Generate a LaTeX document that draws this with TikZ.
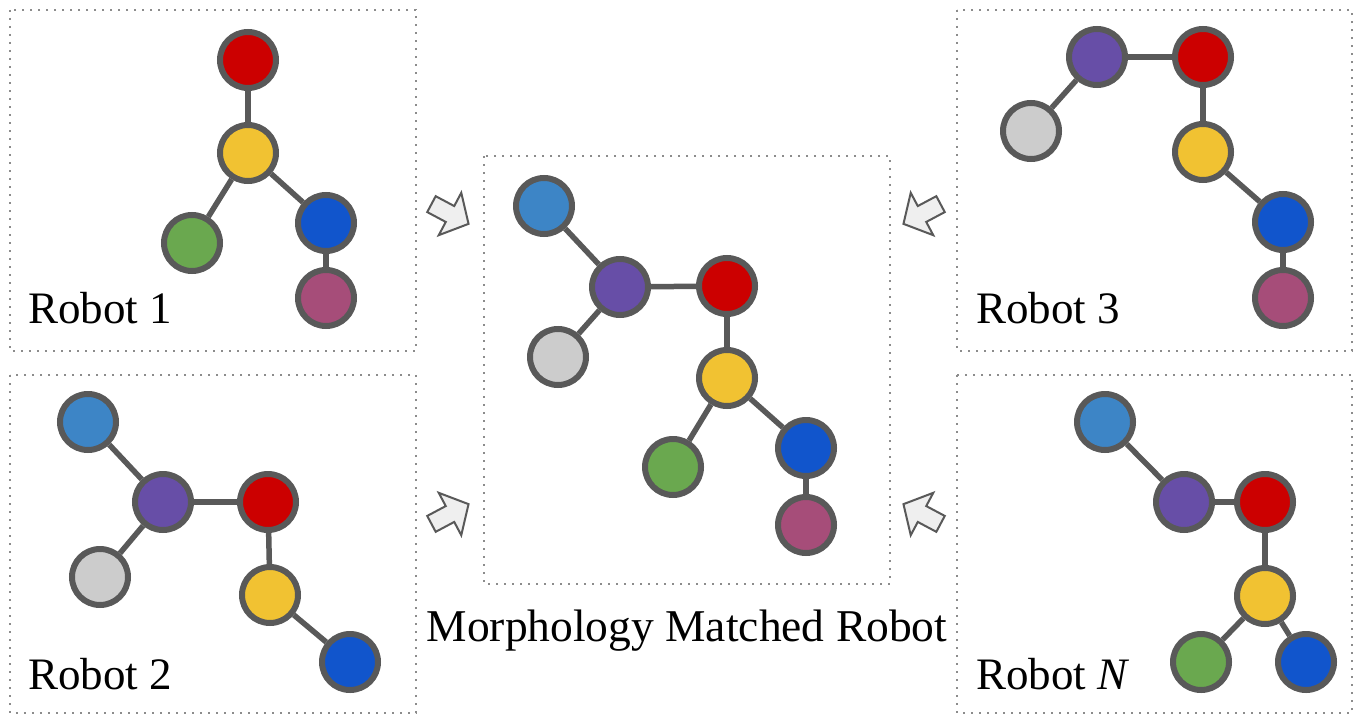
\documentclass[tikz,border=0pt]{standalone}
\usepackage{fontspec}
\setmainfont{Liberation Serif}
\definecolor{jred}{HTML}{CC0000}
\definecolor{jyellow}{HTML}{F1C232}
\definecolor{jgreen}{HTML}{6AA84F}
\definecolor{jsky}{HTML}{3D85C6}
\definecolor{jblue}{HTML}{1155CC}
\definecolor{jpurple}{HTML}{674EA7}
\definecolor{jplum}{HTML}{A64D79}
\definecolor{jgray}{HTML}{CCCCCC}
\definecolor{rim}{HTML}{595959}
\definecolor{framegray}{HTML}{8C8C8C}
\definecolor{arrowfill}{HTML}{EFEFEF}
\tikzset{
  jn/.style={circle, draw=rim, line width=6pt, minimum size=56pt, inner sep=0pt, fill=#1},
  link/.style={draw=rim, line width=5.5pt},
  panel/.style={draw=framegray, line width=1.6pt, dash pattern=on 1.6pt off 6.4pt},
  lbl/.style={font=\fontsize{45}{50}\selectfont, anchor=base west, inner sep=0pt},
  blockarrow/.style={fill=arrowfill, draw=rim, line width=2pt, line join=miter}
}
\newcommand{\blockarrowshape}{(-21,-9) -- (0,-9) -- (0,-24) -- (21,0) -- (0,24) -- (0,9) -- (-21,9) -- cycle}
\begin{document}
\begin{tikzpicture}[x=1pt, y=-1pt]
\useasboundingbox (0,0) rectangle (1354,717);
\fill[white] (0,0) rectangle (1354,717);

% panels
\draw[panel] (10,10) rectangle (416,351);
\draw[panel] (10,375) rectangle (416,713);
\draw[panel] (484,156) rectangle (890,584);
\draw[panel] (957,10) rectangle (1352,351);
\draw[panel] (957,375) rectangle (1352,713);

% Robot 1
\node[jn=jred]    (a1) at (248,60)  {};
\node[jn=jyellow] (a2) at (248,153) {};
\node[jn=jgreen]  (a3) at (192,243) {};
\node[jn=jblue]   (a4) at (326,223) {};
\node[jn=jplum]   (a5) at (326,298) {};
\draw[link] (a1) -- (a2);
\draw[link] (a2) -- (a3);
\draw[link] (a2) -- (a4);
\draw[link] (a4) -- (a5);
\node[lbl] (l1) at (28,323) {Robot 1};

% Robot 2
\node[jn=jsky]    (b1) at (88,422)  {};
\node[jn=jpurple] (b2) at (163,502) {};
\node[jn=jred]    (b3) at (268,502) {};
\node[jn=jgray]   (b4) at (100,577) {};
\node[jn=jyellow] (b5) at (270,595) {};
\node[jn=jblue]   (b6) at (350,662) {};
\draw[link] (b1) -- (b2);
\draw[link] (b2) -- (b3);
\draw[link] (b2) -- (b4);
\draw[link] (b3) -- (b5);
\draw[link] (b5) -- (b6);
\node[lbl] (l2) at (28,689) {Robot 2};

% matched robot
\node[jn=jsky]    (m1) at (544,206) {};
\node[jn=jpurple] (m2) at (620,287) {};
\node[jn=jred]    (m3) at (727,286) {};
\node[jn=jgray]   (m4) at (558,357) {};
\node[jn=jyellow] (m5) at (727,378) {};
\node[jn=jgreen]  (m6) at (673,467) {};
\node[jn=jblue]   (m7) at (806,448) {};
\node[jn=jplum]   (m8) at (806,525) {};
\draw[link] (m1) -- (m2);
\draw[link] (m2) -- (m3);
\draw[link] (m2) -- (m4);
\draw[link] (m3) -- (m5);
\draw[link] (m5) -- (m6);
\draw[link] (m5) -- (m7);
\draw[link] (m7) -- (m8);
\node[lbl, anchor=base, font=\fontsize{45.5}{50}\selectfont] (lm) at (687,641) {Morphology Matched Robot};

% Robot 3
\node[jn=jpurple] (c1) at (1097,57)  {};
\node[jn=jred]    (c2) at (1203,57)  {};
\node[jn=jgray]   (c3) at (1031,131) {};
\node[jn=jyellow] (c4) at (1203,152) {};
\node[jn=jblue]   (c5) at (1283,222) {};
\node[jn=jplum]   (c6) at (1283,298) {};
\draw[link] (c1) -- (c2);
\draw[link] (c1) -- (c3);
\draw[link] (c2) -- (c4);
\draw[link] (c4) -- (c5);
\draw[link] (c5) -- (c6);
\node[lbl] (l3) at (976,323) {Robot 3};

% Robot N
\node[jn=jsky]    (d1) at (1105,422) {};
\node[jn=jpurple] (d2) at (1184,502) {};
\node[jn=jred]    (d3) at (1265,502) {};
\node[jn=jyellow] (d4) at (1265,596) {};
\node[jn=jgreen]  (d5) at (1201,662) {};
\node[jn=jblue]   (d6) at (1306,662) {};
\draw[link] (d1) -- (d2);
\draw[link] (d2) -- (d3);
\draw[link] (d3) -- (d4);
\draw[link] (d4) -- (d5);
\draw[link] (d4) -- (d6);
\node[lbl] (l4) at (976,689) {Robot \textit{N}};

% block arrows towards the matched robot
\draw[blockarrow, shift={(450,214)}, rotate=-28]  \blockarrowshape;
\draw[blockarrow, shift={(922,214)}, rotate=-152] \blockarrowshape;
\draw[blockarrow, shift={(450,514)}, rotate=28]   \blockarrowshape;
\draw[blockarrow, shift={(922,514)}, rotate=152]  \blockarrowshape;
\end{tikzpicture}
\end{document}
